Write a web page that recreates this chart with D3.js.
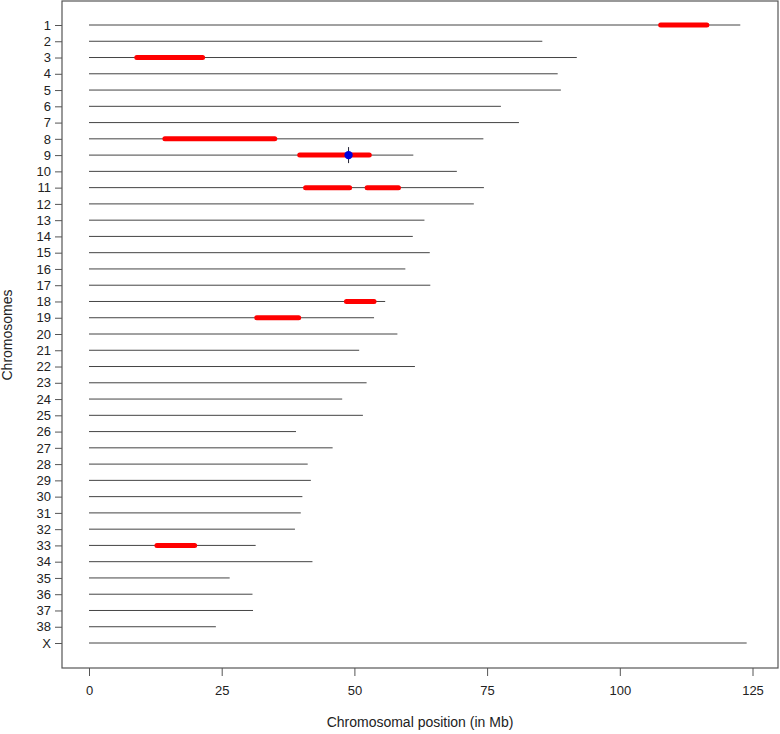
<!DOCTYPE html>
<html><head><meta charset="utf-8">
<script src="https://cdn.jsdelivr.net/npm/d3@7"></script>
<style>body{margin:0;background:#fff}text{font-family:"Liberation Sans",Arial,sans-serif}</style>
</head><body>
<svg id="c" width="780" height="734"></svg>
<script>
const chromosomes = ["1","2","3","4","5","6","7","8","9","10","11","12","13","14","15","16","17","18","19","20","21","22","23","24","25","26","27","28","29","30","31","32","33","34","35","36","37","38","X"];
const lengths = [122.7,85.4,91.9,88.3,88.9,77.6,81.0,74.3,61.1,69.3,74.4,72.5,63.2,61.0,64.2,59.6,64.3,55.8,53.7,58.1,50.9,61.4,52.3,47.7,51.6,39.0,45.9,41.2,41.8,40.2,39.9,38.8,31.4,42.1,26.5,30.8,30.9,23.9,123.9];
const regionChr = ["1","3","8","9","11","11","18","19","33"];
const regionStart = [107.7,9.0,14.3,39.7,40.8,52.4,48.5,31.6,12.8];
const regionEnd = [116.4,21.4,35.0,52.8,49.1,58.3,53.7,39.5,19.9];
const markerChr = ["9"];
const markerPos = [48.9];
const xTicks = [0,25,50,75,100,125];

const svg = d3.select("#c");
const x = d3.scaleLinear().domain([0,125]).range([89,752.5]);
const y = d3.scalePoint().domain(chromosomes).range([25,643]);

// box
svg.append("rect").attr("x",62).attr("y",1).attr("width",716).attr("height",667)
  .attr("fill","none").attr("stroke","#555").attr("stroke-width",1.2);

// chromosome lines
svg.append("g").selectAll("line").data(chromosomes).join("line")
  .attr("x1",x(0)).attr("x2",(d,i)=>x(lengths[i]))
  .attr("y1",d=>y(d)).attr("y2",d=>y(d))
  .attr("stroke","#444").attr("stroke-width",1);

// regions
svg.append("g").selectAll("line").data(regionChr).join("line")
  .attr("x1",(d,i)=>x(regionStart[i])).attr("x2",(d,i)=>x(regionEnd[i]))
  .attr("y1",d=>y(d)).attr("y2",d=>y(d))
  .attr("stroke","#ff0000").attr("stroke-width",5).attr("stroke-linecap","round");

// markers
const mk = svg.append("g");
markerChr.forEach((c,i)=>{
  mk.append("line").attr("x1",x(markerPos[i])).attr("x2",x(markerPos[i]))
    .attr("y1",y(c)-8).attr("y2",y(c)+8).attr("stroke","#223").attr("stroke-width",1);
  mk.append("circle").attr("cx",x(markerPos[i])).attr("cy",y(c)).attr("r",4.2).attr("fill","#0000dd");
});

// x axis
const xa = svg.append("g").attr("transform","translate(0,668)")
  .call(d3.axisBottom(x).tickValues(xTicks).tickSize(8).tickPadding(10).tickFormat(d3.format("d")));
xa.select(".domain").remove();
xa.selectAll("line").attr("stroke","#555");
xa.selectAll("text").attr("font-size",13).attr("fill","#222").attr("font-family","Liberation Sans, Arial, sans-serif");

// y axis
const ya = svg.append("g").attr("transform","translate(62,0)")
  .call(d3.axisLeft(y).tickSize(7).tickPadding(4));
ya.select(".domain").remove();
ya.selectAll("line").attr("stroke","#555");
ya.selectAll("text").attr("font-size",13).attr("fill","#222").attr("font-family","Liberation Sans, Arial, sans-serif");

svg.append("text").attr("x",420).attr("y",727).attr("text-anchor","middle")
  .attr("font-size",14).attr("fill","#222").text("Chromosomal position (in Mb)");
svg.append("text").attr("transform","translate(12,335) rotate(-90)").attr("text-anchor","middle")
  .attr("font-size",14).attr("fill","#222").text("Chromosomes");
</script>
</body></html>
